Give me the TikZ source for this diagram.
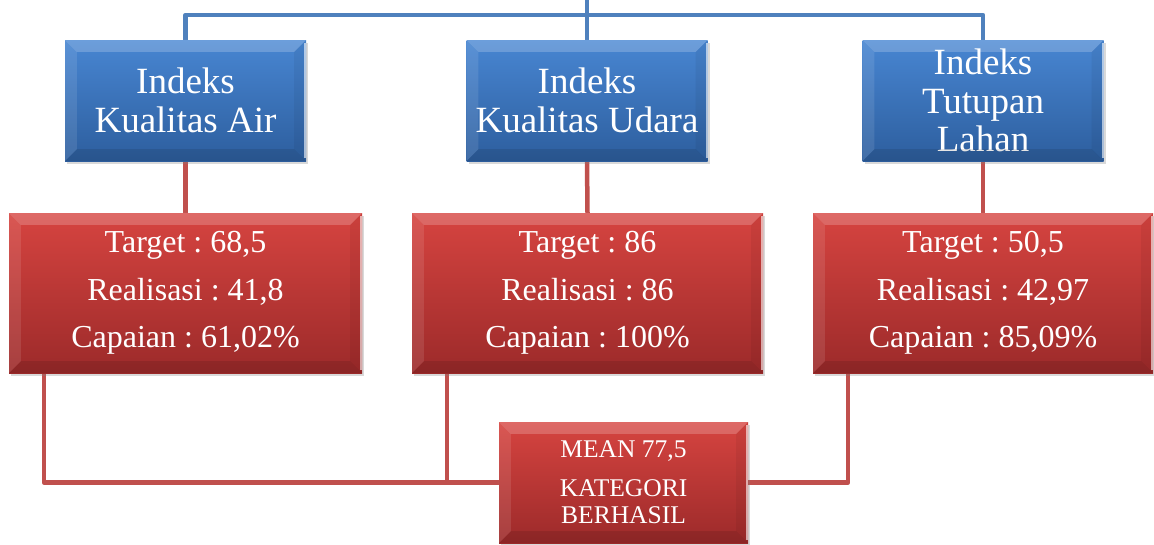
\documentclass[tikz,border=0pt]{standalone}
\usepackage{fontspec}
\setmainfont{Liberation Serif}
\frenchspacing
\usetikzlibrary{calc,shadows,backgrounds}
\definecolor{bluelinec}{RGB}{79,129,189}
\definecolor{redlinec}{RGB}{192,80,77}
\definecolor{bluetop}{RGB}{72,134,210}
\definecolor{bluebot}{RGB}{45,94,158}
\definecolor{redtop}{RGB}{214,68,64}
\definecolor{redbot}{RGB}{156,42,42}
\newcommand\mybevel[1]{%
  \fill[white,opacity=0.2] (#1.north west) -- (#1.north east) -- ($(#1.north east)+(-12,12)$) -- ($(#1.north west)+(12,12)$) -- cycle;
  \fill[white,opacity=0.1] (#1.north west) -- ($(#1.north west)+(12,12)$) -- ($(#1.south west)+(12,-12)$) -- (#1.south west) -- cycle;
  \fill[black,opacity=0.1] (#1.south west) -- ($(#1.south west)+(12,-12)$) -- ($(#1.south east)+(-12,-12)$) -- (#1.south east) -- cycle;
  \fill[black,opacity=0.05] (#1.north east) -- ($(#1.north east)+(-12,12)$) -- ($(#1.south east)+(-12,-12)$) -- (#1.south east) -- cycle;
  \draw[white,opacity=0.6,line width=2pt] ($(#1.north east)+(-1,3)$) -- ($(#1.south east)+(-1,-3)$);
}
\tikzset{
  x=1pt, y=-1pt,
  boxbase/.style={rectangle, inner sep=0pt, text=white, align=center,
    drop shadow={shadow xshift=2pt, shadow yshift=-3pt, opacity=0.3}},
  bluebox/.style={boxbase, minimum width=241pt, minimum height=121pt,
    top color=bluetop, bottom color=bluebot, font=\fontsize{37}{38.5}\selectfont},
  redbox/.style={boxbase, minimum height=160pt,
    top color=redtop, bottom color=redbot, font=\fontsize{32}{47.5}\selectfont},
  meanbox/.style={boxbase, minimum width=249pt, minimum height=121pt,
    top color=redtop, bottom color=redbot, font=\fontsize{25.5}{27}\selectfont},
  blueconn/.style={draw=bluelinec, line width=4.5pt, line join=round},
  redconn/.style={draw=redlinec, line width=4.5pt, line join=round},
}
\begin{document}
\begin{tikzpicture}
\useasboundingbox (0,0) rectangle (1154,544);
% blue boxes
\node[bluebox] (b1) at (185.5,100.5) {Indeks\\Kualitas Air};
\mybevel{b1}
\node[bluebox] (b2) at (587,100.5) {Indeks\\Kualitas Udara};
\mybevel{b2}
\node[bluebox] (b3) at (983,100.5) {Indeks\\Tutupan\\Lahan};
\mybevel{b3}
% red boxes
\node[redbox, minimum width=353pt] (r1) at (185.5,293) {Target : 68,5\\Realisasi : 41,8\\Capaian : 61,02\%};
\mybevel{r1}
\node[redbox, minimum width=351pt] (r2) at (587.5,293) {Target : 86\\Realisasi : 86\\Capaian : 100\%};
\mybevel{r2}
\node[redbox, minimum width=340pt] (r3) at (983,293) {Target : 50,5\\Realisasi : 42,97\\Capaian : 85,09\%};
\mybevel{r3}
% mean box
\node[meanbox] (m) at (623.5,482.5) {MEAN 77,5\\[12pt]KATEGORI\\BERHASIL};
\mybevel{m}
% connectors
\coordinate (top) at (587,0);
\coordinate (hub) at (587,15);
\coordinate (r1b) at (44,372);
\coordinate (r2b) at (447,372);
\coordinate (r3b) at (848,372);
\begin{pgfonlayer}{background}
\draw[blueconn] (top) -- (b2.north);
\draw[blueconn] (b1.north) |- (hub) -| (b3.north);
\draw[redconn] (b1.south) -- (r1.north);
\draw[redconn] (b2.south) -- (r2.north);
\draw[redconn] (b3.south) -- (r3.north);
\draw[redconn] (r1b) |- (m.west);
\draw[redconn] (r2b) |- (m.west);
\draw[redconn] (r3b) |- (m.east);
\end{pgfonlayer}
\end{tikzpicture}
\end{document}
